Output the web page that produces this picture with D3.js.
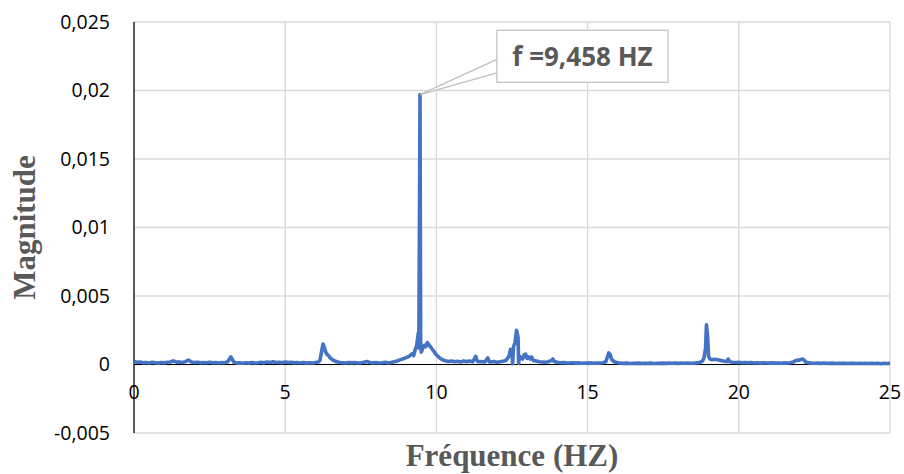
<!DOCTYPE html>
<html>
<head>
<meta charset="utf-8">
<script src="https://cdn.jsdelivr.net/npm/d3@7"></script>
<style>
  html, body { margin: 0; padding: 0; background: #ffffff; }
  svg { display: block; }
</style>
</head>
<body>
<svg id="chart" width="904" height="474"></svg>
<script>
// ---------- DATA ----------
const frequencyHz = [
  0.0,0.1,0.2,0.3,0.4,0.5,0.6,0.7,0.8,0.9,
  1.0,1.1,1.2,1.3,1.4,1.5,1.6,1.7,1.8,1.9,
  2.0,2.1,2.2,2.3,2.4,2.5,2.6,2.7,2.8,2.9,
  3.0,3.1,3.2,3.3,3.4,3.5,3.6,3.7,3.8,3.9,
  4.0,4.1,4.2,4.3,4.4,4.5,4.6,4.7,4.8,4.9,
  5.0,5.1,5.2,5.3,5.4,5.5,5.6,5.7,5.8,5.9,
  6.0,6.1,6.15,6.2,6.25,6.3,6.35,6.4,6.45,6.5,6.6,6.7,6.8,6.9,
  7.0,7.1,7.2,7.3,7.4,7.5,7.6,7.7,7.8,7.9,
  8.0,8.1,8.2,8.3,8.4,8.5,8.6,8.7,8.8,8.9,
  9.0,9.1,9.2,9.25,9.3,9.35,9.4,9.42,9.458,9.48,9.5,9.55,9.6,9.65,9.7,9.75,9.8,9.85,9.9,9.95,
  10.0,10.1,10.2,10.3,10.4,10.5,10.6,10.7,10.8,10.9,
  11.0,11.1,11.2,11.3,11.35,11.4,11.5,11.6,11.7,11.75,11.8,11.9,
  12.0,12.1,12.2,12.3,12.4,12.45,12.5,12.52,12.55,12.6,12.65,12.7,12.72,12.75,12.8,12.85,12.9,12.95,
  13.0,13.05,13.1,13.15,13.2,13.3,13.4,13.5,13.6,13.7,13.8,13.85,13.9,
  14.0,14.1,14.2,14.3,14.4,14.5,14.6,14.7,14.8,14.9,
  15.0,15.1,15.2,15.3,15.4,15.5,15.6,15.65,15.7,15.75,15.8,15.9,
  16.0,16.1,16.2,16.3,16.4,16.5,16.6,16.7,16.8,16.9,
  17.0,17.1,17.2,17.3,17.4,17.5,17.6,17.7,17.8,17.9,
  18.0,18.1,18.2,18.3,18.4,18.5,18.6,18.7,18.8,18.85,18.9,18.93,18.97,
  19.0,19.05,19.1,19.2,19.3,19.4,19.5,19.6,19.65,19.7,19.8,19.9,
  20.0,20.1,20.2,20.3,20.4,20.5,20.6,20.7,20.8,20.9,
  21.0,21.1,21.2,21.3,21.4,21.5,21.6,21.7,21.8,21.9,
  22.0,22.1,22.15,22.2,22.3,22.4,22.5,22.6,22.7,22.8,22.9,
  23.0,23.1,23.2,23.3,23.4,23.5,23.6,23.7,23.8,23.9,
  24.0,24.1,24.2,24.3,24.4,24.5,24.6,24.7,24.8,24.9,
  25.0
];
const magnitude = [
  0.00022,0.00016,0.00018,0.00012,0.00015,0.00011,0.00016,0.00013,0.00010,0.00014,
  0.00012,0.00016,0.00018,0.00027,0.00017,0.00019,0.00015,0.00021,0.00033,0.00019,
  0.00014,0.00017,0.00012,0.00015,0.00013,0.00017,0.00012,0.00014,0.00011,0.00015,
  0.00013,0.00020,0.00055,0.00018,0.00010,0.00012,0.00009,0.00013,0.00010,0.00014,
  0.00011,0.00013,0.00016,0.00012,0.00018,0.00014,0.00020,0.00015,0.00017,0.00013,
  0.00019,0.00014,0.00016,0.00012,0.00015,0.00011,0.00014,0.00010,0.00013,0.00011,
  0.00014,0.00018,0.00030,0.00090,0.00150,0.00120,0.00085,0.00070,0.00060,0.00045,0.00030,0.00020,0.00015,0.00013,
  0.00011,0.00014,0.00012,0.00015,0.00011,0.00013,0.00017,0.00022,0.00015,0.00012,
  0.00014,0.00011,0.00013,0.00016,0.00012,0.00015,0.00020,0.00026,0.00034,0.00042,
  0.00050,0.00060,0.00080,0.00065,0.00110,0.00140,0.00230,0.00120,0.01970,0.00150,0.00090,0.00120,0.00140,0.00130,0.00160,0.00145,0.00130,0.00115,0.00100,0.00085,
  0.00070,0.00050,0.00035,0.00028,0.00022,0.00026,0.00020,0.00024,0.00019,0.00025,
  0.00021,0.00026,0.00020,0.00060,0.00025,0.00020,0.00022,0.00018,0.00048,0.00020,0.00018,0.00022,
  0.00017,0.00020,0.00024,0.00030,0.00060,0.00110,0.00080,0.00005,0.00130,0.00160,0.00250,0.00200,0.00010,0.00060,0.00050,0.00040,0.00070,0.00075,
  0.00045,0.00055,0.00040,0.00055,0.00030,0.00025,0.00020,0.00018,0.00016,0.00020,0.00028,0.00040,0.00022,
  0.00016,0.00013,0.00015,0.00012,0.00011,0.00013,0.00010,0.00012,0.00009,0.00011,
  0.00010,0.00012,0.00009,0.00011,0.00010,0.00013,0.00020,0.00050,0.00085,0.00070,0.00035,0.00018,
  0.00013,0.00010,0.00008,0.00010,0.00007,0.00009,0.00008,0.00010,0.00007,0.00009,
  0.00008,0.00010,0.00007,0.00009,0.00008,0.00010,0.00008,0.00011,0.00009,0.00010,
  0.00008,0.00011,0.00009,0.00010,0.00009,0.00010,0.00012,0.00015,0.00025,0.00050,0.00120,0.00290,0.00200,
  0.00060,0.00040,0.00035,0.00038,0.00034,0.00030,0.00025,0.00022,0.00040,0.00020,0.00017,0.00015,
  0.00016,0.00013,0.00015,0.00012,0.00014,0.00011,0.00013,0.00010,0.00012,0.00011,
  0.00010,0.00012,0.00010,0.00011,0.00009,0.00012,0.00010,0.00013,0.00018,0.00030,
  0.00032,0.00040,0.00035,0.00020,0.00012,0.00010,0.00009,0.00011,0.00008,0.00010,0.00009,
  0.00008,0.00010,0.00007,0.00009,0.00008,0.00009,0.00007,0.00009,0.00008,0.00007,
  0.00008,0.00007,0.00009,0.00007,0.00008,0.00007,0.00008,0.00006,0.00008,0.00007,
  0.00008
];
const xTicks = [0, 5, 10, 15, 20, 25];
const yTicks = [-0.005, 0, 0.005, 0.01, 0.015, 0.02, 0.025];
const peakFrequency = 9.458;
const peakMagnitude = 0.0197;
const annotationText = "f =9,458 HZ";
const xTitle = "Fréquence (HZ)";
const yTitle = "Magnitude";

// ---------- LAYOUT ----------
const svg = d3.select("#chart");
const plot = { left: 134, right: 890, top: 22, bottom: 433 };

const x = d3.scaleLinear().domain([0, 25]).range([plot.left, plot.right]);
const y = d3.scaleLinear().domain([-0.005, 0.025]).range([plot.bottom, plot.top]);

const fmt = v => (v === 0 ? "0" : String(+v.toFixed(3)).replace(".", ","));

const tickFont = "'Open Sans', 'Liberation Sans', sans-serif";
const titleFont = "'Liberation Serif', 'Times New Roman', serif";

// Grid lines
svg.append("g")
  .selectAll("line.h")
  .data(yTicks)
  .join("line")
  .attr("x1", plot.left).attr("x2", plot.right)
  .attr("y1", d => y(d)).attr("y2", d => y(d))
  .attr("stroke", "#d9d9d9").attr("stroke-width", 1.3);

svg.append("g")
  .selectAll("line.v")
  .data(xTicks.filter(d => d !== 0))
  .join("line")
  .attr("x1", d => x(d)).attr("x2", d => x(d))
  .attr("y1", plot.top).attr("y2", plot.bottom)
  .attr("stroke", "#d9d9d9").attr("stroke-width", 1.3);

// X axis line at zero
svg.append("line")
  .attr("x1", plot.left).attr("x2", plot.right)
  .attr("y1", y(0)).attr("y2", y(0))
  .attr("stroke", "#000").attr("stroke-width", 1);

// Y axis line
svg.append("line")
  .attr("x1", x(0)).attr("x2", x(0))
  .attr("y1", plot.top).attr("y2", plot.bottom)
  .attr("stroke", "#000").attr("stroke-width", 1.3);

// Data line
const pts = frequencyHz.map((f, i) => [f, magnitude[i]]);
svg.append("path")
  .datum(pts)
  .attr("fill", "none")
  .attr("stroke", "#4472C4")
  .attr("stroke-width", 3.6)
  .attr("stroke-linejoin", "round")
  .attr("d", d3.line().x(d => x(d[0])).y(d => y(d[1])));

// Y tick labels
svg.append("g")
  .selectAll("text")
  .data(yTicks)
  .join("text")
  .attr("x", plot.left - 24)
  .attr("y", d => y(d))
  .attr("dy", "0.35em")
  .attr("text-anchor", "end")
  .attr("font-family", tickFont)
  .attr("font-size", 19.5)
  .attr("fill", "#000")
  .text(fmt);

// X tick labels (just below the zero line)
svg.append("g")
  .selectAll("text")
  .data(xTicks)
  .join("text")
  .attr("x", d => x(d))
  .attr("y", y(0) + 34)
  .attr("text-anchor", "middle")
  .attr("font-family", tickFont)
  .attr("font-size", 19.5)
  .attr("fill", "#000")
  .text(d => String(d));

// Axis titles
svg.append("text")
  .attr("x", (plot.left + plot.right) / 2)
  .attr("y", 466)
  .attr("text-anchor", "middle")
  .attr("font-family", titleFont)
  .attr("font-weight", "bold")
  .attr("font-size", 31)
  .attr("fill", "#595959")
  .text(xTitle);

svg.append("text")
  .attr("transform", `translate(35, ${(plot.top + plot.bottom) / 2}) rotate(-90)`)
  .attr("text-anchor", "middle")
  .attr("font-family", titleFont)
  .attr("font-weight", "bold")
  .attr("font-size", 31)
  .attr("fill", "#595959")
  .text(yTitle);

// Annotation callout (box placed in data units)
const boxF0 = 12.0, boxF1 = 17.66, boxM0 = 0.0206, boxM1 = 0.0244;
const px = x(peakFrequency), py = y(peakMagnitude);
const bx0 = x(boxF0), bx1 = x(boxF1), by0 = y(boxM1), by1 = y(boxM0);
const bh = by1 - by0;

svg.append("path")
  .attr("d", `M${bx0},${by0 + bh * 0.56} L${px},${py} L${bx0},${by0 + bh * 0.82}`)
  .attr("fill", "#fff")
  .attr("stroke", "#bfbfbf")
  .attr("stroke-width", 1.2);

svg.append("rect")
  .attr("x", bx0).attr("y", by0)
  .attr("width", bx1 - bx0).attr("height", bh)
  .attr("fill", "#fff")
  .attr("stroke", "#bfbfbf")
  .attr("stroke-width", 1.2);

svg.append("text")
  .attr("x", (bx0 + bx1) / 2)
  .attr("y", by0 + bh / 2)
  .attr("dy", "0.36em")
  .attr("text-anchor", "middle")
  .attr("font-family", tickFont)
  .attr("font-weight", "bold")
  .attr("font-size", 26)
  .attr("fill", "#595959")
  .text(annotationText);
</script>
</body>
</html>
